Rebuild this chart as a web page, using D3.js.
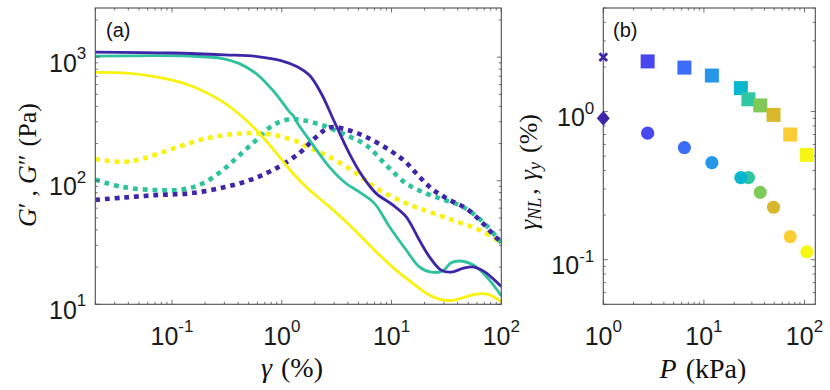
<!DOCTYPE html>
<html><head><meta charset="utf-8">
<script src="https://cdn.jsdelivr.net/npm/d3@7"></script>
<style>html,body{margin:0;padding:0;background:#fff;}svg{display:block;}</style>
</head><body>
<svg id="chart" width="830" height="390"></svg>
<script>
// ---------- Panel (a) data: strain amplitude (%) and moduli (Pa) ----------
const strainPurpleG1 = [0.02,0.1,0.3,0.6,1.0,1.4,1.79,2.29,3.02,4.13,5.47,7.24,10.3,13.6,17.9,22.1,28.3,34.9,44.5,54.9,70.2,83.5,100];
const modPurpleG1    = [1100,1081,1045,1012,935,834,713,508,299,166,108,79,63.5,51,33.1,24.3,18.9,18.2,19.5,20.1,18.4,16.2,13.9];
const strainTealG1   = [0.02,0.144,0.29,0.412,0.585,0.828,0.953,1.175,1.26,1.43,1.79,2.72,3.86,5.1,6.99,9.57,13.6,17.9,23.0,29.3,34.9,44.5,58.9,78,100];
const modTealG1      = [1018,1020,975,887,736,540,462,361,339,281,213,129,95,81,65.6,42.4,27.5,20.1,18.2,18.6,21.7,22.3,20.1,15.7,11.7];
const strainYellowG1 = [0.02,0.0356,0.0718,0.144,0.29,0.474,0.671,0.953,1.26,1.79,2.72,3.86,5.47,7.76,11.0,15.6,20.7,27.3,34.9,44.5,58.9,75.2,100];
const modYellowG1    = [752,745,692,593,435,309,226,156,115,84,61.5,46.6,34.2,25.1,18.9,14.8,12.3,11.0,10.7,11.3,12.1,12.1,10.5];

const strainPurpleG2 = [0.02,0.0356,0.0718,0.144,0.29,0.508,0.828,1.43,2.06,2.72,3.86,5.87,9.57,13.4,17.7,23.7,33,47.8,65.7,89,100];
const modPurpleG2    = [70,73,76.5,79,88,101,122,166,226,270,260,226,177,142,109,85,70.6,59.7,46.6,35,32];
const strainTealG2   = [0.02,0.0356,0.0718,0.125,0.19,0.29,0.412,0.585,0.828,1.175,1.55,2.36,3.86,5.87,8.93,13.6,20.7,29.3,41.5,55,72.6,92.6,100];
const modTealG2      = [102,89,84,85,95,122,161,213,281,315,309,281,234,194,134,95,79,70.6,63.5,54.5,43.7,34.2,31.5];
const strainYellowG2 = [0.02,0.0356,0.0542,0.102,0.205,0.412,0.671,1.02,1.43,1.67,2.72,4.76,7.76,13.6,17.9,22.1,36.1,58.9,83.5,100];
const modYellowG2    = [150,142,151,182,220,241,241,226,205,190,156,115,84,65.6,59.7,56,48,41,35,31];

// ---------- Panel (b) data: pressure (kPa) and strains (%) ----------
const pressure  = [2.76,6.4,12.0,23.3,27.7,36.3,49.2,72.1,105.6];
const gammaY    = [2.18,1.98,1.75,1.44,1.21,1.10,0.95,0.70,0.51];
const gammaNL   = [0.715,0.571,0.452,0.358,0.358,0.285,0.226,0.143,0.113];
const pointColors = ["#4848ee","#3b6df6","#2596e8","#0bb7cf","#2fc6a2","#7dca58","#d8b82a","#fbcd35","#f6f614"];
const refPressure = [1];
const refGammaY   = [2.33];
const refGammaNL  = [0.90];

// tick labels
const aXTicks = [0.1,1,10,100], aXExp = ["-1","0","1","2"];
const aYTicks = [10,100,1000],  aYExp = ["1","2","3"];
const bXTicks = [1,10,100],     bXExp = ["0","1","2"];
const bYTicks = [0.1,1],        bYExp = ["-1","0"];

const cPurple = "#3e26a8", cTeal = "#2fc29e", cYellow = "#f8f20e";

const svg = d3.select("#chart");
const axisColor = "#4d4d4d";
const sansFont = "'Liberation Sans', Arial, sans-serif";
const serifFont = "'Liberation Serif', 'Times New Roman', serif";

function drawFrame(x, y, xTicksMaj, xExp, yTicksMaj, yExp) {
  const [x0,x1] = x.range(), [y0,y1] = y.range();
  const g = svg.append("g");
  const allX = x.ticks().filter(t => t>=x.domain()[0]*0.999 && t<=x.domain()[1]*1.001);
  const allY = y.ticks().filter(t => t>=y.domain()[0]*0.999 && t<=y.domain()[1]*1.001);
  const isMaj = t => Math.abs(Math.log10(t) - Math.round(Math.log10(t))) < 1e-9;
  allX.forEach(t => {
    const len = isMaj(t) ? 4.5 : 2.5, px = x(t);
    g.append("line").attr("x1",px).attr("x2",px).attr("y1",y0).attr("y2",y0-len).attr("stroke",axisColor).attr("stroke-width",0.8);
    g.append("line").attr("x1",px).attr("x2",px).attr("y1",y1).attr("y2",y1+len).attr("stroke",axisColor).attr("stroke-width",0.8);
  });
  allY.forEach(t => {
    const len = isMaj(t) ? 4.5 : 2.5, py = y(t);
    g.append("line").attr("y1",py).attr("y2",py).attr("x1",x0).attr("x2",x0+len).attr("stroke",axisColor).attr("stroke-width",0.8);
    g.append("line").attr("y1",py).attr("y2",py).attr("x1",x1).attr("x2",x1-len).attr("stroke",axisColor).attr("stroke-width",0.8);
  });
  g.append("rect").attr("x",x0).attr("y",y1).attr("width",x1-x0).attr("height",y0-y1)
    .attr("fill","none").attr("stroke",axisColor).attr("stroke-width",1.1);
  xTicksMaj.forEach((t,i) => {
    const tx = g.append("text").attr("x", x(t)).attr("y", y0+40.5).attr("text-anchor","middle")
      .attr("font-family",sansFont).attr("font-size",25).attr("fill","#1a1a1a");
    tx.append("tspan").text("10");
    tx.append("tspan").attr("dy",-12.5).attr("font-size",17).text(xExp[i]);
  });
  yTicksMaj.forEach((t,i) => {
    const tx = g.append("text").attr("x", x0-9).attr("y", y(t)+14.5).attr("text-anchor","end")
      .attr("font-family",sansFont).attr("font-size",25).attr("fill","#1a1a1a");
    tx.append("tspan").text("10");
    tx.append("tspan").attr("dy",-12.5).attr("font-size",17).text(yExp[i]);
  });
}

// ---------------- Panel (a) ----------------
const xA = d3.scaleLog().domain([0.02,100]).range([95.3,501.3]);
const yA = d3.scaleLog().domain([10,2500]).range([304.3,8]);
svg.append("clipPath").attr("id","clipA").append("rect")
  .attr("x",95.3).attr("y",8).attr("width",501.3-95.3).attr("height",304.3-8);

const lineA = d3.line().x(d=>xA(d[0])).y(d=>yA(d[1])).curve(d3.curveCatmullRom.alpha(0.5));
const gA = svg.append("g").attr("clip-path","url(#clipA)");
const zip = (a,b) => a.map((v,i)=>[v,b[i]]);
const seriesA = [
  {x:strainYellowG2, y:modYellowG2, c:cYellow, dot:true},
  {x:strainTealG2,   y:modTealG2,   c:cTeal,   dot:true},
  {x:strainPurpleG2, y:modPurpleG2, c:cPurple, dot:true},
  {x:strainYellowG1, y:modYellowG1, c:cYellow, dot:false},
  {x:strainTealG1,   y:modTealG1,   c:cTeal,   dot:false},
  {x:strainPurpleG1, y:modPurpleG1, c:cPurple, dot:false},
];
seriesA.forEach(s => {
  gA.append("path").attr("d", lineA(zip(s.x,s.y))).attr("fill","none")
    .attr("stroke", s.c).attr("stroke-width", s.dot ? 4.6 : 2.8)
    .attr("stroke-dasharray", s.dot ? "4.8,4.9" : null)
    .attr("stroke-linecap","butt").attr("stroke-linejoin","round");
});
drawFrame(xA, yA, aXTicks, aXExp, aYTicks, aYExp);

svg.append("text").attr("x",106).attr("y",36.5).attr("font-family",sansFont).attr("font-size",20).attr("fill","#111").text("(a)");

// axis labels (a)
{
  const t = svg.append("text").attr("x",292).attr("y",377).attr("text-anchor","middle")
    .attr("font-family",serifFont).attr("font-size",28).attr("fill","#111");
  t.append("tspan").attr("font-style","italic").text("γ");
  t.append("tspan").attr("dx",9).text("(%)");
}
{
  const t = svg.append("text").attr("transform","translate(36,227) rotate(-90)")
    .attr("font-family",serifFont).attr("font-size",26).attr("fill","#111");
  t.append("tspan").attr("font-style","italic").text("G");
  t.append("tspan").text("′");
  t.append("tspan").attr("dx",6).text(",");
  t.append("tspan").attr("dx",6).attr("font-style","italic").text("G");
  t.append("tspan").text("″");
  t.append("tspan").attr("dx",8).text("(Pa)");
}

// ---------------- Panel (b) ----------------
const xB = d3.scaleLog().domain([1,128]).range([603.3,815.3]);
const yB = d3.scaleLog().domain([0.05,5]).range([304.3,8]);
drawFrame(xB, yB, bXTicks, bXExp, bYTicks, bYExp);

const gB = svg.append("g");
pressure.forEach((p,i) => {
  gB.append("rect").attr("x", xB(p)-7).attr("y", yB(gammaY[i])-7).attr("width",14).attr("height",14)
    .attr("fill", pointColors[i]);
});
d3.range(pressure.length-1,-1,-1).forEach(i => {
  gB.append("circle").attr("cx", xB(pressure[i])).attr("cy", yB(gammaNL[i])).attr("r",6.6)
    .attr("fill", pointColors[i]);
});
refPressure.forEach((p,i) => {
  const cx = xB(p), cy = yB(refGammaY[i]), s = 3.8;
  gB.append("path").attr("d", `M${cx-s},${cy-s}L${cx+s},${cy+s}M${cx-s},${cy+s}L${cx+s},${cy-s}`)
    .attr("stroke", cPurple).attr("stroke-width",2.8).attr("fill","none");
  const dy = yB(refGammaNL[i]);
  gB.append("path").attr("d", `M${cx},${dy-7.5}L${cx+6.5},${dy}L${cx},${dy+7.5}L${cx-6.5},${dy}Z`)
    .attr("fill", cPurple);
});

svg.append("text").attr("x",613).attr("y",36.5).attr("font-family",sansFont).attr("font-size",20).attr("fill","#111").text("(b)");

{
  const t = svg.append("text").attr("x",703).attr("y",378).attr("text-anchor","middle")
    .attr("font-family",serifFont).attr("font-size",28).attr("fill","#111");
  t.append("tspan").attr("font-style","italic").text("P");
  t.append("tspan").attr("dx",9).text("(kPa)");
}
{
  const t = svg.append("text").attr("transform","translate(537,230) rotate(-90)")
    .attr("font-family",serifFont).attr("font-size",26).attr("fill","#111");
  t.append("tspan").attr("font-style","italic").text("γ");
  t.append("tspan").attr("font-style","italic").attr("font-size",18).attr("dy",4).text("NL");
  t.append("tspan").attr("dy",-4).attr("dx",3).text(",");
  t.append("tspan").attr("dx",8).attr("font-style","italic").text("γ");
  t.append("tspan").attr("font-style","italic").attr("font-size",18).attr("dy",4).text("y");
  t.append("tspan").attr("dy",-4).attr("dx",9).text("(%)");
}
</script>
</body></html>
